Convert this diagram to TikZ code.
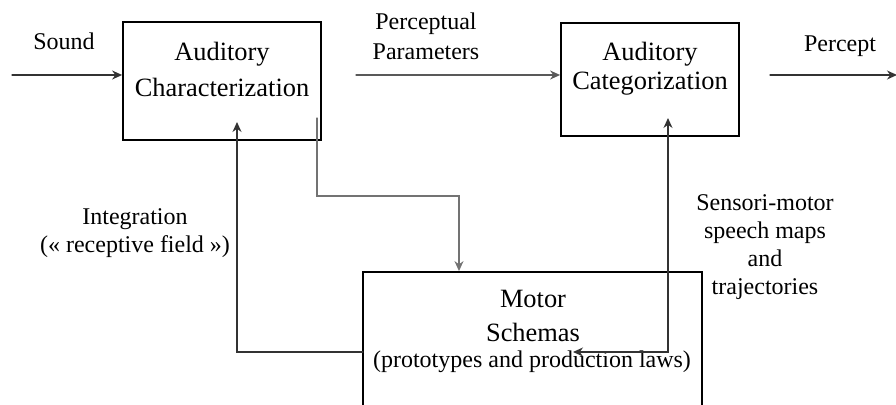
\documentclass[tikz,border=0pt]{standalone}
\usepackage{fontspec}
\setmainfont{Liberation Serif}
\usetikzlibrary{arrows.meta,calc}

\begin{document}
\begin{tikzpicture}[x=0.5pt,y=-0.5pt,line cap=round]
  \tikzset{
    block/.style={draw,line width=0.9pt,inner sep=0pt},
    title/.style={align=center,anchor=base,font=\fontsize{13.2}{18}\selectfont},
    label/.style={align=center,anchor=base,font=\fontsize{12}{14}\selectfont},
    conn/.style={line width=0.65pt,black!80},
    tip/.style={-{Stealth[length=5pt,width=4.5pt]}},
    twotip/.style={{Stealth[length=5pt,width=4.5pt]}-{Stealth[length=5pt,width=4.5pt]}}
  }
  \useasboundingbox (0,0) rectangle (896,405);
  \clip (0,0) rectangle (896,405);

  % Blocks
  \node[block,minimum width=99pt,minimum height=59pt] (charact) at (222,81) {};
  \node[block,minimum width=89pt,minimum height=56.5pt] (categ) at (650,79.5) {};
  \node[block,minimum width=169.5pt,minimum height=74pt] (motor) at (532.5,346) {};

  % Block texts (base = last line)
  \node[title] (characttxt) at (222,97) {Auditory\\Characterization};
  \node[title,font=\fontsize{13.2}{14.5}\selectfont] (categtxt) at (650,90) {Auditory\\Categorization};
  \node[title,font=\fontsize{13.2}{17}\selectfont] (motortxt) at (533,342) {Motor\\Schemas};
  \node[label] (motorsub) at (532,368) {(prototypes and production laws)};

  % Labels
  \node[label] (sound) at (64,50) {Sound};
  \node[label,font=\fontsize{12}{15}\selectfont] (params) at (426,60) {Perceptual\\Parameters};
  \node[label] (percept) at (840,52) {Percept};
  \node[label] (integ) at (135,253) {Integration\\(« receptive field »)};
  \node[label] (sensori) at (765,295) {Sensori-motor\\speech maps\\and\\trajectories};

  % Free ends
  \coordinate (sndin) at (12,75);
  \coordinate (ppout) at (356,75);
  \coordinate (pcout) at (770,75);
  \coordinate (pcend) at (897,75);
  \coordinate (chout) at (317,118);
  \coordinate (chturn) at (459,196);
  \coordinate (intout) at (363,352);
  \coordinate (inttip) at (237,122);
  \coordinate (smleft) at (573,352);
  \coordinate (smtop) at (668,118);

  % Main chain
  \draw[conn,tip] (sndin) -- (sndin -| charact.west);
  \draw[conn,tip,black!65] (ppout) -- (ppout -| categ.west);
  \draw[conn,tip] (pcout) -- (pcend);

  % Loops through the motor schemas
  \draw[conn,tip,black!55] (chout) |- (chturn) -- (chturn |- motor.north);
  \draw[conn,tip] (intout) -| (inttip);
  \draw[conn,twotip] (smleft) -| (smtop);
\end{tikzpicture}
\end{document}
